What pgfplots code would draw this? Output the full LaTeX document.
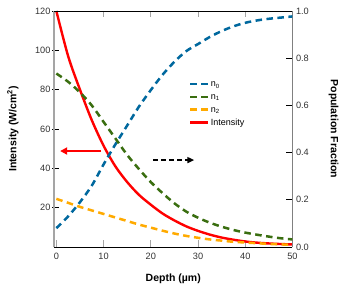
\documentclass[border=0pt]{standalone}
\usepackage{pgfplots}
\pgfplotsset{compat=1.18}
\usepackage{fontspec}
\setmainfont{Liberation Sans}
\usetikzlibrary{arrows.meta}
\definecolor{cblue}{RGB}{0,104,158}
\definecolor{cgreen}{RGB}{58,110,16}
\definecolor{corange}{RGB}{255,170,0}
\definecolor{axgray}{RGB}{165,165,165}
\begin{document}
\begin{tikzpicture}
\pgfplotsset{
 common/.style={width=238.5pt,height=236pt,scale only axis,xmin=-0.5,xmax=50,
  tick align=inside, major tick length=6.5pt,
  /pgf/number format/assume math mode=true,
  tick label style={font=\fontsize{9.2}{11}\selectfont, text=black!80},
  label style={font=\fontsize{10.5}{12}\selectfont\bfseries},
 }
}
\begin{axis}[common,
 axis x line*=bottom, axis y line*=left,
 ymin=0,ymax=120,
 xtick={0,10,20,30,40,50}, ytick={20,40,60,80,100,120},
 x axis line style={black, line width=0.9pt},
 y axis line style={axgray, line width=2pt},
 x tick style={axgray, line width=0.9pt},
 y tick style={black, line width=0.8pt, xshift=-1.5pt},
 xticklabel style={yshift=-3pt},
 xlabel={Depth (µm)},
 ylabel={Intensity (W/cm\textsuperscript{2})},
 xlabel style={at={(axis description cs:0.5,-0.148)}, anchor=base},
 ylabel style={at={(axis description cs:-0.134,0.5)}, anchor=south},
]
\addplot[red, line width=2.4pt, smooth] coordinates {
(0,120) (2.5,97) (5,80) (7.5,64.5) (10,51.5) (12.5,41) (15,33) (17.5,26.5) (20,21.5) (22.5,17) (25,13.5) (27.5,10.5) (30,8.2) (32.5,6.3) (35,4.8) (37.5,3.7) (40,2.8) (42.5,2.2) (45,1.8) (47.5,1.5) (50,1.3)};
\draw[red, line width=1.8pt, -{Triangle[length=7pt,width=7pt]}] (axis cs:9.5,48.8) -- (axis cs:0.8,48.8);
\draw[black, line width=1.8pt, dash pattern=on 5pt off 3pt, -{Triangle[length=7pt,width=6pt]}] (axis cs:20.5,44.2) -- (axis cs:29.2,44.2);
\end{axis}
\begin{axis}[common,
 axis x line*=top, axis y line*=right,
 ymin=0,ymax=1,
 xtick={10,20,30,40}, xticklabels={},
 ytick={0,0.2,0.4,0.6,0.8,1},
 yticklabel style={/pgf/number format/.cd, fixed, fixed zerofill, precision=1},
 x axis line style={black, line width=0.9pt},
 y axis line style={gray, line width=1.1pt},
 x tick style={axgray, line width=0.9pt},
 y tick style={black, line width=0.8pt},
 ylabel={Population Fraction},
 ylabel style={at={(axis description cs:1.151,0.5)}, anchor=south, rotate=180, inner sep=0pt},
 legend image code/.code={\draw[#1] (0pt,0pt) -- (18pt,0pt);},
 legend cell align=left,
 legend style={at={(axis description cs:0.565,0.715)}, anchor=north west, draw=none, fill=none, inner sep=0pt,
   font=\fontsize{9}{10}\selectfont, row sep=1.2pt,
   nodes={inner sep=1.5pt, text depth=1.5pt, text height=7pt}},
]
\addplot[cblue, line width=2.5pt, dash pattern=on 6.5pt off 4.5pt, smooth] coordinates {
(0,0.08) (2.5,0.13) (5,0.19) (7.5,0.26) (10,0.35) (12.5,0.435) (15,0.515) (17.5,0.595) (20,0.665) (22.5,0.73) (25,0.785) (27.5,0.83) (30,0.86) (32.5,0.89) (35,0.915) (37.5,0.935) (40,0.95) (42.5,0.96) (45,0.967) (47.5,0.972) (50,0.977)};
\addlegendentry{n\textsubscript{0}}
\addplot[cgreen, line width=2.5pt, dash pattern=on 6.5pt off 4.5pt, smooth] coordinates {
(0,0.735) (2.5,0.7) (5,0.655) (7.5,0.6) (10,0.53) (12.5,0.46) (15,0.39) (17.5,0.33) (20,0.275) (22.5,0.228) (25,0.185) (27.5,0.15) (30,0.124) (32.5,0.103) (35,0.086) (37.5,0.072) (40,0.061) (42.5,0.052) (45,0.044) (47.5,0.037) (50,0.032)};
\addlegendentry{n\textsubscript{1}}
\addplot[corange, line width=2.5pt, dash pattern=on 6.5pt off 4.5pt, smooth] coordinates {
(0,0.204) (2.5,0.187) (5,0.17) (7.5,0.155) (10,0.14) (12.5,0.125) (15,0.11) (17.5,0.095) (20,0.082) (22.5,0.069) (25,0.057) (27.5,0.047) (30,0.039) (32.5,0.032) (35,0.027) (37.5,0.022) (40,0.019) (42.5,0.016) (45,0.013) (47.5,0.011) (50,0.009)};
\addlegendentry{n\textsubscript{2}}
\addlegendimage{red, line width=2.4pt}
\addlegendentry{Intensity}
\end{axis}
\pgfresetboundingbox
\path (-54pt,-39pt) rectangle (287pt,247pt);
\end{tikzpicture}
\end{document}
